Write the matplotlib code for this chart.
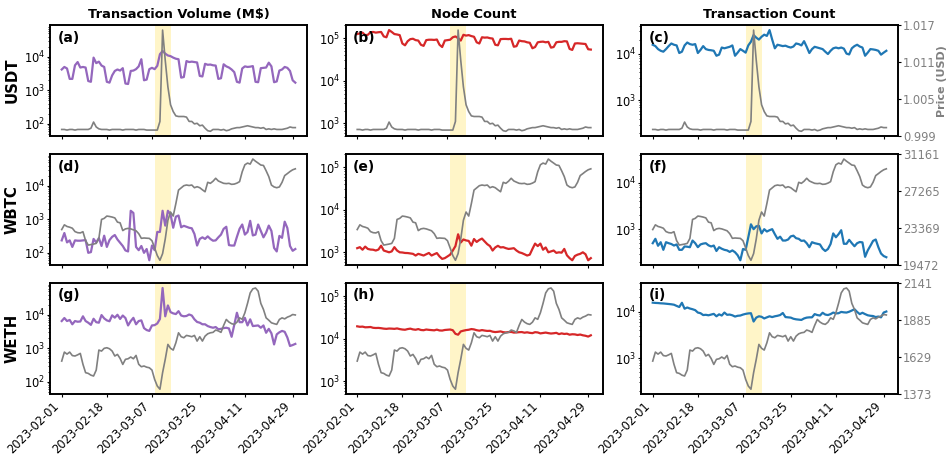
import numpy as np
import pandas as pd
import matplotlib
matplotlib.use('Agg')
import matplotlib.pyplot as plt
import matplotlib.dates as mdates

plt.rcParams['font.family'] = ['DejaVu Sans']

dates = pd.date_range('2023-02-01', '2023-04-30', freq='D')
tick_dates = pd.to_datetime(['2023-02-01', '2023-02-18', '2023-03-07',
                             '2023-03-25', '2023-04-11', '2023-04-29'])
band = (pd.Timestamp('2023-03-08'), pd.Timestamp('2023-03-14'))

tokens = ['USDT', 'WBTC', 'WETH']
metrics = ['Transaction Volume (M$)', 'Node Count', 'Transaction Count']
panel_letters = ['(a)', '(b)', '(c)', '(d)', '(e)', '(f)', '(g)', '(h)', '(i)']

# ---------------- prices (USD) ----------------
usdt_price = [
    1.0000, 1.0000, 0.9999, 1.0000, 1.0000, 0.9999, 1.0000, 1.0000, 1.0000, 1.0000,
    1.0000, 1.0002, 1.0012, 1.0004, 1.0001, 1.0000, 1.0000, 1.0000, 0.9999, 1.0000,
    1.0000, 1.0000, 1.0000, 0.9999, 1.0000, 1.0000, 1.0000, 1.0000, 0.9999, 1.0000,
    1.0000, 1.0000, 0.9999, 0.9999, 0.9999, 0.9999, 0.9999, 1.0013, 1.0161, 1.0112,
    1.0069, 1.0040, 1.0029, 1.0022, 1.0021, 1.0021, 1.0021, 1.0020, 1.0013, 1.0013,
    1.0009, 1.0010, 1.0006, 1.0007, 1.0002, 0.9998, 0.9997, 1.0000, 1.0000, 1.0000,
    0.9999, 1.0000, 0.9998, 0.9999, 1.0001, 1.0002, 1.0003, 1.0003, 1.0004, 1.0005,
    1.0006, 1.0005, 1.0004, 1.0003, 1.0003, 1.0002, 1.0003, 1.0000, 1.0001, 1.0000,
    1.0001, 1.0000, 1.0000, 1.0000, 1.0001, 1.0002, 1.0004, 1.0003, 1.0003]

wbtc_price = [
    23227, 23722, 23550, 23474, 23368, 23014, 22900, 22872, 23000, 22058,
    21597, 21650, 21703, 21774, 22300, 24289, 24400, 24643, 24600, 24537,
    24450, 24006, 23935, 23120, 23297, 23350, 23297, 23200, 23100, 22800,
    22306, 22341, 22320, 22300, 22058, 21300, 20500, 20003.5, 20700, 22235,
    24200, 25068, 24643, 25954, 27371, 27600, 27831, 27902, 27850, 27902,
    27619, 27725, 27619, 27400, 27194, 28185, 28079, 28300, 28610, 28327,
    28200, 28079, 28050, 28079, 27973, 28000, 28100, 28256, 29300, 30027,
    30204, 30100, 30630, 30400, 30204, 30000, 29956, 29400, 28787, 27900,
    27700, 27619, 27700, 28185, 28894, 29100, 29319, 29500, 29602]

weth_price = [
    1602, 1664, 1650, 1664, 1640, 1637, 1645, 1655, 1580, 1522,
    1517, 1505, 1499, 1540, 1678, 1671, 1690, 1694, 1687, 1671,
    1637, 1648, 1620, 1579, 1614, 1618, 1630, 1618, 1641, 1580,
    1563, 1568, 1560, 1556, 1540, 1476, 1430, 1408, 1522, 1614,
    1717, 1690, 1678, 1728, 1797, 1770, 1763, 1779, 1775, 1770,
    1779, 1740, 1770, 1740, 1774, 1790, 1797, 1800, 1816, 1810,
    1800, 1848, 1889, 1871, 1860, 1855, 1870, 1900, 1890, 1935,
    2000, 2072, 2100, 2106, 2084, 2000, 1958, 1900, 1884, 1866,
    1860, 1855, 1889, 1900, 1893, 1905, 1912, 1923, 1920]

# ---------------- USDT metrics ----------------
usdt_volume = [
    4200, 5000, 4500, 2200, 2200, 5600, 7000, 4800, 5000, 4800,
    1900, 1800, 9500, 6500, 7200, 5500, 5000, 1800, 1700, 2800,
    3800, 4200, 3900, 4600, 1600, 1550, 3800, 3900, 4300, 5200,
    8500, 2000, 2100, 4300, 4700, 4300, 5400, 12000, 15000, 12500,
    11000, 10500, 9500, 8800, 8500, 2400, 2500, 7500, 7000, 7200,
    7000, 6800, 2700, 2600, 6200, 5800, 5900, 5600, 5500, 2200,
    2300, 6000, 5200, 4800, 4200, 3500, 1800, 1700, 4500, 5200,
    5000, 5100, 5300, 1800, 1750, 4600, 4700, 4800, 6700, 5200,
    1750, 1850, 3900, 4200, 5000, 4700, 3800, 2000, 1700]

usdt_nodes = [
    125000, 130000, 135000, 118000, 120000, 138000, 140000, 135000, 138000, 140000,
    110000, 105000, 155000, 140000, 125000, 122000, 118000, 75000, 68000, 85000,
    95000, 97000, 90000, 88000, 70000, 66000, 90000, 92000, 92000, 91000,
    93000, 70000, 62000, 88000, 90000, 92000, 105000, 110000, 100000, 88000,
    120000, 115000, 118000, 112000, 108000, 80000, 75000, 105000, 103000, 104000,
    100000, 98000, 70000, 68000, 95000, 96000, 96000, 95000, 97000, 63000,
    65000, 88000, 85000, 84000, 80000, 78000, 58000, 62000, 80000, 82000,
    83000, 80000, 82000, 60000, 62000, 80000, 82000, 82000, 85000, 84000,
    56000, 53000, 75000, 76000, 75000, 74000, 73000, 55000, 54000]

usdt_txcount = [
    15500, 14500, 12500, 11500, 11000, 12500, 14500, 16500, 15500, 15000,
    10300, 11000, 15000, 17300, 16000, 15500, 16000, 10300, 12000, 14500,
    12500, 12000, 11800, 11500, 9000, 9500, 13500, 13000, 13500, 14000,
    15000, 9000, 10500, 12500, 11500, 10500, 15000, 18000, 25000, 22000,
    20000, 23000, 25500, 24000, 32000, 20000, 13000, 15500, 15000, 14500,
    14800, 14000, 13500, 14200, 16500, 16000, 15000, 18500, 14000, 10300,
    12500, 14000, 13500, 13000, 12500, 11000, 9800, 11500, 13000, 13500,
    13000, 13500, 12800, 10000, 9600, 13000, 14500, 15500, 14200, 13500,
    9000, 10500, 12500, 12300, 12000, 11500, 9500, 10500, 11500]

# ---------------- WBTC metrics ----------------
wbtc_volume = [
    235, 390, 205, 235, 150, 235, 230, 230, 235, 240,
    100, 105, 260, 205, 275, 160, 325, 150, 240, 300,
    340, 250, 200, 160, 118, 110, 1800, 1550, 150, 120,
    160, 100, 130, 60, 165, 120, 420, 420, 1800, 650,
    1800, 1400, 560, 1200, 1300, 580, 640, 600, 560, 540,
    365, 165, 260, 290, 260, 310, 260, 230, 235, 290,
    350, 520, 600, 170, 165, 165, 300, 520, 700, 350,
    420, 900, 330, 350, 700, 450, 290, 400, 650, 450,
    140, 110, 320, 280, 850, 550, 160, 115, 130]

wbtc_nodes = [
    1250, 1320, 1150, 1360, 1200, 1160, 1150, 1100, 1160, 1430,
    1100, 1050, 1000, 1050, 1320, 1100, 1000, 990, 965, 960,
    940, 920, 840, 920, 880, 840, 900, 965, 840, 900,
    960, 800, 700, 730, 800, 880, 1100, 1400, 2650, 1700,
    2000, 1900, 1850, 1430, 2050, 1750, 1950, 2100, 1800, 1550,
    1400, 1100, 1300, 1420, 1300, 1320, 1250, 1200, 1220, 1250,
    1100, 1000, 960, 900, 840, 880, 1200, 1600, 1400, 1600,
    1150, 1300, 1000, 1050, 1100, 970, 1000, 980, 1200, 850,
    730, 650, 820, 880, 920, 1000, 900, 650, 730]

wbtc_txcount = [
    500, 620, 440, 525, 360, 525, 500, 480, 445, 470,
    360, 360, 425, 420, 410, 570, 500, 410, 470, 490,
    500, 450, 425, 445, 340, 410, 380, 360, 350, 325,
    350, 320, 275, 215, 375, 360, 670, 1270, 1000, 1150,
    1180, 810, 1000, 890, 950, 1000, 780, 620, 690, 570,
    570, 600, 700, 725, 640, 620, 560, 570, 500, 410,
    525, 500, 485, 470, 380, 340, 375, 480, 810, 670,
    780, 950, 485, 485, 590, 500, 430, 500, 530, 520,
    255, 350, 440, 560, 600, 410, 300, 265, 250]

# ---------------- WETH metrics ----------------
weth_volume = [
    6500, 8000, 6500, 7000, 5200, 6500, 6200, 6300, 9000, 6500,
    5800, 5000, 7600, 6000, 5800, 9800, 7800, 6800, 6400, 9600,
    8200, 10000, 7500, 9500, 8000, 4800, 6500, 8100, 5200, 6500,
    6800, 4000, 3500, 3300, 4800, 4900, 5500, 7500, 63000, 9000,
    19000, 12000, 11000, 10500, 12800, 9500, 9000, 9200, 10200, 9500,
    7300, 6100, 5800, 5200, 5200, 4600, 4300, 4100, 4300, 3700,
    3800, 4000, 4100, 3900, 2200, 5000, 11500, 6000, 6000, 8100,
    4800, 7300, 4600, 4700, 4800, 4100, 4800, 2900, 3800, 2800,
    1300, 2600, 3000, 3300, 3100, 2100, 1170, 1250, 1350]

weth_nodes = [
    19500, 19000, 19200, 18500, 18600, 18800, 18000, 17800, 17900, 17600,
    17200, 17000, 17300, 17200, 17000, 17400, 16800, 16400, 16200, 16800,
    17200, 16500, 16200, 16800, 16000, 15800, 16400, 16100, 15900, 15700,
    16300, 15600, 15500, 16000, 16200, 16400, 15800, 13000, 12400, 14800,
    15400, 15900, 16200, 16800, 16500, 15800, 15400, 15900, 15500, 15200,
    15300, 14600, 14300, 14500, 14800, 14200, 14000, 14300, 14400, 13900,
    14000, 14200, 14300, 13800, 14100, 13700, 13500, 14200, 14000, 13300,
    13600, 13900, 13500, 13200, 13400, 13700, 12800, 13300, 12900, 13100,
    12400, 12700, 12600, 12200, 12500, 12000, 11700, 11200, 12000]

weth_txcount = [
    15500, 15300, 15200, 15000, 14900, 14700, 14500, 14300, 14000, 13200,
    12500, 15400, 11500, 12200, 11600, 11200, 10700, 9500, 9200, 8400,
    8500, 8300, 8600, 8900, 7900, 8700, 8200, 9500, 8500, 8600,
    8300, 7800, 8100, 8200, 8600, 8900, 9100, 9200, 6100, 7400,
    7900, 7700, 7100, 7500, 7900, 7600, 7900, 8100, 8400, 9300,
    7600, 7500, 7400, 7000, 6800, 6700, 6600, 7100, 7400, 7500,
    7500, 8800, 8400, 8200, 9400, 8600, 8400, 8800, 9500, 9100,
    9200, 9800, 9600, 9500, 9900, 10500, 11200, 9800, 8800, 9400,
    8800, 8300, 8100, 8000, 7600, 7800, 7500, 9500, 10000]

prices = [usdt_price, wbtc_price, weth_price]
metric_data = [[usdt_volume, usdt_nodes, usdt_txcount],
               [wbtc_volume, wbtc_nodes, wbtc_txcount],
               [weth_volume, weth_nodes, weth_txcount]]
price_fmt = ['{:.3f}', '{:.0f}', '{:.0f}']
line_colors = ['#9467bd', '#d62728', '#1f77b4']

fig, axes = plt.subplots(3, 3, figsize=(9.53, 4.59), dpi=100,
                         sharex=True, sharey='col')
fig.subplots_adjust(left=0.0525, right=0.9423, top=0.9455, bottom=0.141,
                    wspace=0.15, hspace=0.158)

for i, tok in enumerate(tokens):
    for j in range(3):
        ax = axes[i, j]
        ax.axvspan(band[0], band[1], color='#fff5c8', zorder=0, lw=0)
        ax.plot(dates, metric_data[i][j], color=line_colors[j], lw=1.6, zorder=2)
        ax.set_yscale('log')
        ax.tick_params(axis='both', which='major', labelsize=8.3, length=2.5, pad=1.2)
        ax.tick_params(axis='both', which='minor', length=1.5)
        for s in ax.spines.values():
            s.set_linewidth(1.2)
        ax2 = ax.twinx()
        ax2.plot(dates, prices[i], color='gray', lw=1.2)
        lo, hi = ax2.get_ylim()
        tv = np.linspace(lo, hi, 4)
        ax2.set_yticks(tv)
        ax2.set_yticklabels([price_fmt[i].format(v) for v in tv])
        ax2.set_ylim(lo, hi)
        for s in ax2.spines.values():
            s.set_linewidth(1.2)
        if j < 2:
            ax2.tick_params(axis='y', right=False, labelright=False)
        else:
            ax2.tick_params(axis='y', labelsize=8.3, labelcolor='gray',
                            length=2.5, pad=1.2)
            if i == 0:
                ax2.set_ylabel('Price (USD)', color='gray', fontweight='bold',
                               fontsize=8, labelpad=1)
        ax2.text(0.03, 0.95, panel_letters[i * 3 + j], transform=ax2.transAxes,
                 ha='left', va='top', fontsize=10, fontweight='bold', zorder=10)
        if i == 0:
            ax.set_title(metrics[j], fontsize=9.4, fontweight='bold', pad=5)
        if j == 0:
            ax.set_ylabel(tok, fontsize=10.7, fontweight='bold', labelpad=3)

axes[0, 0].set_xticks(tick_dates)
axes[0, 0].xaxis.set_major_formatter(mdates.DateFormatter('%Y-%m-%d'))
for ax in axes[2, :]:
    plt.setp(ax.get_xticklabels(), rotation=45, ha='right')

fig.savefig('out.png', dpi=100)
